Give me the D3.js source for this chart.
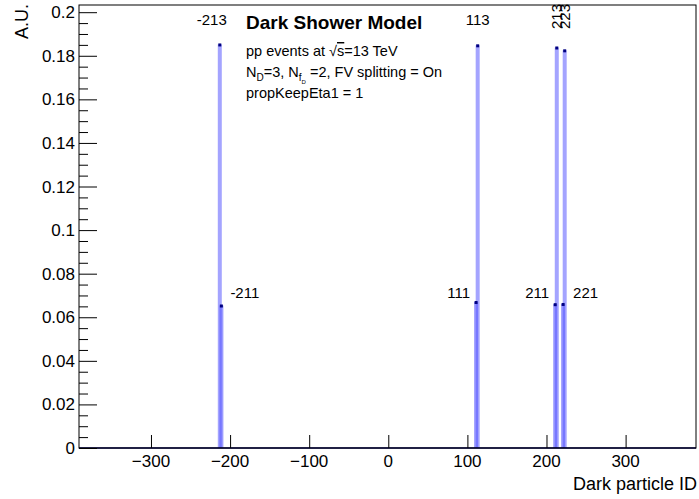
<!DOCTYPE html>
<html>
<head>
<meta charset="utf-8">
<script src="https://cdn.jsdelivr.net/npm/d3@7"></script>
<style>
body{margin:0;background:#fff;}
text{font-family:"Liberation Sans",Arial,Helvetica,sans-serif;}
</style>
</head>
<body>
<div class="container"></div>
<script>
// vector mesons (light) and pseudoscalars (darker)
var vecIds=[-213,113,213,223];
var vecVals=[0.1852,0.1848,0.1838,0.1825];
var psIds=[-211,111,211,221];
var psVals=[0.0654,0.0670,0.0660,0.0661];
var xTicks=[-300,-200,-100,0,100,200,300];
var yTicks=[0,0.02,0.04,0.06,0.08,0.1,0.12,0.14,0.16,0.18,0.2];

var width=699,height=499;
var margin={left:79,right:3,top:5,bottom:51};

var svg=d3.select(".container").append("svg").attr("width",width).attr("height",height);

var x=d3.scaleLinear().domain([-391,389]).range([margin.left,width-margin.right]);
var y=d3.scaleLinear().domain([0,0.2033]).range([height-margin.bottom,margin.top]);

var bw=4;
function drawHist(ids,vals,fill){
    var g=svg.append("g");
    g.selectAll("rect.bar").data(ids).enter().append("rect")
        .attr("class","bar")
        .attr("x",function(d){return x(d)-bw/2;})
        .attr("width",bw)
        .attr("y",function(d,i){return y(vals[i]);})
        .attr("height",function(d,i){return y(0)-y(vals[i]);})
        .attr("fill",fill);
    g.selectAll("rect.mk").data(ids).enter().append("rect")
        .attr("class","mk")
        .attr("x",function(d){return x(d)-1.5;})
        .attr("width",3)
        .attr("y",function(d,i){return y(vals[i])-1;})
        .attr("height",3)
        .attr("fill","#000080");
}
drawHist(vecIds,vecVals,"rgba(90,90,255,0.55)");
drawHist(psIds,psVals,"rgba(90,90,255,0.6)");

// baseline
svg.append("line").attr("x1",margin.left).attr("x2",width-margin.right).attr("y1",y(0)).attr("y2",y(0))
    .attr("stroke","#000060").attr("stroke-width",1.5);

// frame
svg.append("rect").attr("x",margin.left).attr("y",margin.top)
    .attr("width",width-margin.right-margin.left).attr("height",height-margin.bottom-margin.top)
    .attr("fill","none").attr("stroke","#000").attr("stroke-width",1);

// y axis
var yAxis=d3.axisRight(y).tickValues(yTicks).tickSize(18).tickFormat("");
svg.append("g").attr("transform","translate("+margin.left+",0)").call(yAxis)
    .call(function(g){g.select(".domain").remove();});
var yMinor=d3.range(0,0.2031,0.005).filter(function(v){return Math.abs(v/0.02-Math.round(v/0.02))>1e-6;});
svg.append("g").attr("transform","translate("+margin.left+",0)")
    .call(d3.axisRight(y).tickValues(yMinor).tickSize(9).tickFormat(""))
    .call(function(g){g.select(".domain").remove();});
svg.selectAll(".ylab").data(yTicks).enter().append("text")
    .attr("class","ylab")
    .attr("x",margin.left-4).attr("y",function(d){return y(d)+6;})
    .attr("text-anchor","end").attr("font-size",17)
    .text(function(d){return d3.format("~g")(d);});

// x axis
svg.append("g").attr("transform","translate(0,"+y(0)+")")
    .call(d3.axisTop(x).tickValues(xTicks).tickSize(13).tickFormat(""))
    .call(function(g){g.select(".domain").remove();});
svg.selectAll(".xlab").data(xTicks).enter().append("text")
    .attr("class","xlab")
    .attr("x",function(d){return x(d);}).attr("y",y(0)+19)
    .attr("text-anchor","middle").attr("font-size",17)
    .text(function(d){return d<0?"\u2212"+(-d):String(d);});

svg.selectAll(".tick line").attr("stroke","#000");

// axis titles
svg.append("text").attr("x",width-2).attr("y",490).attr("text-anchor","end")
    .attr("font-size",18).text("Dark particle ID");
svg.append("text").attr("transform","translate(28,4) rotate(-90)").attr("text-anchor","end")
    .attr("font-size",18).text("A.U.");

// bin labels
var lab=svg.append("g").attr("font-size",15);
lab.append("text").attr("x",x(-213)-8).attr("y",25).attr("text-anchor","middle").text("-213");
lab.append("text").attr("x",x(113)).attr("y",25).attr("text-anchor","middle").text("113");
lab.append("text").attr("transform","translate("+(x(213)+5)+",4) rotate(-90)").attr("text-anchor","end").text("213");
lab.append("text").attr("transform","translate("+(x(223)+5)+",4) rotate(-90)").attr("text-anchor","end").text("223");
lab.append("text").attr("x",x(-211)+9).attr("y",298).text("-211");
lab.append("text").attr("x",x(111)-6).attr("y",298).attr("text-anchor","end").text("111");
lab.append("text").attr("x",x(211)-6).attr("y",298).attr("text-anchor","end").text("211");
lab.append("text").attr("x",x(221)+10).attr("y",298).text("221");

// legend text
var lx=246;
svg.append("text").attr("x",lx).attr("y",29).attr("font-size",19).attr("font-weight","bold").text("Dark Shower Model");
var t1=svg.append("text").attr("x",lx).attr("y",56).attr("font-size",14.5);
t1.append("tspan").text("pp events at \u221A");
t1.append("tspan").attr("text-decoration","overline").text("s");
t1.append("tspan").text("=13 TeV");
var t2=svg.append("text").attr("x",lx).attr("y",77).attr("font-size",14.5);
t2.append("tspan").text("N");
t2.append("tspan").attr("font-size",10).attr("dy",4).text("D");
t2.append("tspan").attr("dy",-4).text("=3, N");
t2.append("tspan").attr("font-size",10).attr("dy",4).text("f");
t2.append("tspan").attr("font-size",6).attr("dy",3).text("D");
t2.append("tspan").attr("dy",-7).text(" =2, FV splitting = On");
svg.append("text").attr("x",lx).attr("y",98).attr("font-size",14.5).text("propKeepEta1 = 1");
</script>
</body>
</html>
